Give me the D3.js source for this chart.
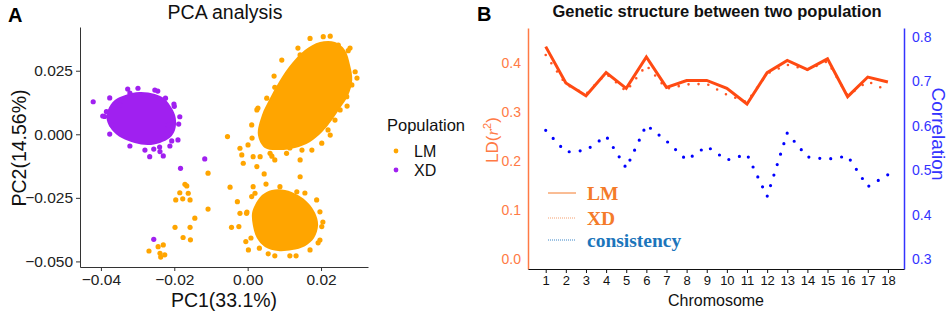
<!DOCTYPE html>
<html>
<head>
<meta charset="utf-8">
<title>PCA and genetic structure</title>
<script src="https://d3js.org/d3.v7.min.js"></script>
<style>
  body { margin: 0; background: #fff; }
  svg { display: block; font-family: "Liberation Sans", Arial, sans-serif; }
  .axisA path, .axisA line { stroke: #333; }
  .axisA text { fill: #222; font-size: 15.5px; }
</style>
</head>
<body>
<div id="chart"></div>
<script>
// ---------- Panel A data (PC1, PC2) ----------
// dense cores of the clusters, read as outlines
var xdCore = [[-0.0381,0.0096],[-0.0362,0.0135],[-0.0335,0.0154],[-0.0294,0.0166],[-0.0253,0.0158],[-0.0226,0.0139],[-0.0207,0.0103],[-0.0196,0.0064],[-0.0198,0.0017],[-0.0212,-0.0014],[-0.0239,-0.0034],[-0.0272,-0.0042],[-0.0308,-0.0034],[-0.0343,-0.0015],[-0.0370,0.0017],[-0.0384,0.0056]];
var lmUpperCore = [[0.0028,-0.0003],[0.0039,0.0076],[0.0061,0.0143],[0.0088,0.0213],[0.0121,0.0280],[0.0156,0.0332],[0.0197,0.0363],[0.0238,0.0363],[0.0265,0.0332],[0.0279,0.0273],[0.0285,0.0213],[0.0274,0.0154],[0.0252,0.0103],[0.0230,0.0056],[0.0203,0.0009],[0.0170,-0.0030],[0.0129,-0.0054],[0.0088,-0.0062],[0.0047,-0.0054]];
var lmLowerCore = [[0.0020,-0.0278],[0.0039,-0.0239],[0.0066,-0.0219],[0.0102,-0.0219],[0.0137,-0.0239],[0.0165,-0.0270],[0.0184,-0.0310],[0.0192,-0.0357],[0.0181,-0.0408],[0.0156,-0.0440],[0.0121,-0.0455],[0.0083,-0.0459],[0.0047,-0.0443],[0.0025,-0.0408],[0.0014,-0.0357],[0.0012,-0.0310]];

// individual points around the cores
var xdPoints = [
  [-0.0421,0.0128],[-0.0299,0.0181],[-0.0224,0.0142],[-0.0185,0.0069],[-0.0190,-0.0022],[-0.0267,-0.0088],[-0.0385,0.0089],
  [-0.0239,-0.0068],[-0.0230,-0.0085],[-0.0183,-0.0134],[-0.0117,-0.0097],[-0.0256,-0.0413],[-0.0212,-0.0046],[-0.0348,0.0115],
  [-0.0321,0.0162],[-0.0217,0.0037],[-0.0370,0.0037],[-0.0280,-0.0062],[-0.0253,0.0174],[-0.0200,0.0110],[-0.0390,0.0070],[-0.0240,-0.0050],
  [-0.0376,0.0143],[-0.0327,0.0178],[-0.0245,0.0170],[-0.0201,0.0119],[-0.0188,0.0040],[-0.0207,-0.0026],
  [-0.0256,-0.0058],[-0.0321,-0.0046],[-0.0376,0.0001],[-0.0395,0.0072]
];
var lmPoints = [
  // upper cluster fringe
  [0.0206,0.0384],[0.0170,0.0377],[0.0247,0.0351],[0.0274,0.0329],[0.0293,0.0246],[0.0270,0.0148],[0.0238,0.0056],[0.0202,-0.0035],
  [0.0093,0.0292],[0.0074,0.0185],[0.0052,0.0142],[0.0025,0.0096],[0.0011,0.0037],[-0.0055,-0.0009],[-0.0021,-0.0055],[0.0015,-0.0088],
  [-0.0016,-0.0081],[-0.0012,-0.0114],[0.0025,-0.0127],[0.0034,-0.0088],[0.0061,-0.0075],[0.0106,-0.0075],[0.0045,-0.0156],[0.0143,-0.0167],
  [0.0143,-0.0101],[0.0175,-0.0062],[0.0225,-0.0003],[0.0115,-0.0054],[0.0074,-0.0101],[0.0252,0.0096],[0.0284,0.0194],[0.0143,0.0312],[0.0110,0.0233],
  [0.0012,-0.0015],[0.0028,0.0103],[0.0072,0.0229],[0.0137,0.0339],[0.0225,0.0386],[0.0279,0.0339],[0.0298,0.0221],
  [0.0271,0.0111],[0.0219,0.0017],[0.0148,-0.0062],[0.0066,-0.0086],[0.0001,-0.0042],
  // between clusters
  [-0.0048,-0.0208],[-0.0028,-0.0265],[-0.0021,-0.0311],[-0.0044,-0.0366],[-0.0024,-0.0363],[0.0002,-0.0455],[-0.0005,-0.0422],[0.0032,-0.0448],
  // lower cluster fringe
  [0.0015,-0.0206],[0.0088,-0.0206],[0.0134,-0.0226],[0.0188,-0.0258],[0.0202,-0.0363],[0.0205,-0.0345],[0.0011,-0.0245],[0.0020,-0.0232],
  [-0.0003,-0.0311],[0.0074,-0.0478],[0.0115,-0.0478],[0.0170,-0.0455],[0.0197,-0.0416],
  [0.0050,-0.0196],[0.0156,-0.0231],[0.0197,-0.0305],[0.0192,-0.0427],[0.0132,-0.0478],[0.0056,-0.0470],
  [0.0009,-0.0408],[-0.0002,-0.0306],
  // scattered left group
  [-0.0108,-0.0153],[-0.0171,-0.0197],[-0.0166,-0.0203],[-0.0185,-0.0230],[-0.0162,-0.0232],[-0.0196,-0.0258],[-0.0177,-0.0254],[-0.0157,-0.0258],
  [-0.0108,-0.0294],[-0.0144,-0.0330],[-0.0198,-0.0366],[-0.0157,-0.0366],[-0.0176,-0.0406],[-0.0156,-0.0415],[-0.0269,-0.0459],[-0.0244,-0.0442],
  [-0.0230,-0.0435],[-0.0239,-0.0468],[-0.0226,-0.0474],[-0.0237,-0.0483]
];
var pcaXTicks = [-0.04, -0.02, 0.00, 0.02];
var pcaYTicks = [-0.050, -0.025, 0.000, 0.025];

// ---------- Panel B data ----------
var chromosomes = d3.range(1, 19);
var ldLM = [0.433,0.359,0.333,0.380,0.348,0.412,0.350,0.364,0.364,0.348,0.316,0.380,0.405,0.386,0.408,0.331,0.371,0.361];
var ldXD = [0.416,0.356,0.336,0.378,0.342,0.395,0.347,0.356,0.357,0.335,0.320,0.378,0.396,0.386,0.403,0.333,0.362,0.343];
var consistency = [0.590,0.541,0.545,0.577,0.505,0.602,0.566,0.523,0.554,0.523,0.536,0.441,0.584,0.530,0.525,0.532,0.463,0.490];
var ldTicks = [0.0, 0.1, 0.2, 0.3, 0.4];
var corTicks = [0.3, 0.4, 0.5, 0.6, 0.7, 0.8];

var svg = d3.select("#chart").append("svg")
    .attr("width", 948)
    .attr("height", 313);

// ================= Panel A =================
var xA = d3.scaleLinear().domain([-0.0457, 0.0328]).range([80, 368]);
var yA = d3.scaleLinear().domain([-0.0522, 0.0422]).range([267, 27]);
var orange = "#FFA500", purple = "#A020F0";
var minus = function (s) { return s.replace("-", "\u2212"); };

svg.append("text").attr("x", 8).attr("y", 22)
    .style("font-size", "20px").style("font-weight", "bold").text("A");
svg.append("text").attr("x", 225).attr("y", 19).attr("text-anchor", "middle")
    .style("font-size", "19.5px").style("fill", "#111").text("PCA analysis");

var area = d3.line().x(function (d) { return xA(d[0]); }).y(function (d) { return yA(d[1]); })
    .curve(d3.curveCatmullRomClosed);

svg.append("path").datum(lmUpperCore).attr("d", area).style("fill", orange);
svg.append("path").datum(lmLowerCore).attr("d", area).style("fill", orange);
svg.append("path").datum(xdCore).attr("d", area).style("fill", purple);

svg.selectAll(".lmPt").data(lmPoints).enter().append("circle")
    .attr("cx", function (d) { return xA(d[0]); })
    .attr("cy", function (d) { return yA(d[1]); })
    .attr("r", 2.6).style("fill", orange);
svg.selectAll(".xdPt").data(xdPoints).enter().append("circle")
    .attr("cx", function (d) { return xA(d[0]); })
    .attr("cy", function (d) { return yA(d[1]); })
    .attr("r", 2.6).style("fill", purple);

svg.append("g").attr("class", "axisA")
    .attr("transform", "translate(0,267)")
    .call(d3.axisBottom(xA).tickValues(pcaXTicks).tickSizeInner(4).tickSizeOuter(0)
        .tickFormat(function (d) { return minus(d3.format(".2f")(d)); }));
svg.append("g").attr("class", "axisA")
    .attr("transform", "translate(80,0)")
    .call(d3.axisLeft(yA).tickValues(pcaYTicks).tickSizeInner(4).tickSizeOuter(0)
        .tickFormat(function (d) { return minus(d3.format(".3f")(d)); }));
svg.selectAll(".axisA text").style("font-size", "15.5px");

svg.append("text").attr("x", 224).attr("y", 307).attr("text-anchor", "middle")
    .style("font-size", "19.5px").style("fill", "#111").text("PC1(33.1%)");
svg.append("text").attr("transform", "translate(26,148) rotate(-90)").attr("text-anchor", "middle")
    .style("font-size", "19.5px").style("fill", "#111").text("PC2(14.56%)");

// legend A
svg.append("text").attr("x", 387).attr("y", 131).style("font-size", "16.5px").style("fill", "#111").text("Population");
var legA = [["LM", orange], ["XD", purple]];
legA.forEach(function (d, i) {
    svg.append("circle").attr("cx", 396).attr("cy", 151 + i * 19).attr("r", 2.4).style("fill", d[1]);
    svg.append("text").attr("x", 414).attr("y", 156.5 + i * 19).style("font-size", "16px").style("fill", "#111").text(d[0]);
});

// ================= Panel B =================
var x = d3.scaleLinear().domain([0.12, 18.8]).range([528, 904]);
var yL = d3.scaleLinear().domain([-0.0204, 0.471]).range([269, 28]);
var yR = d3.scaleLinear().domain([0.2775, 0.8205]).range([269, 28]);
var axisOrange = "#FF7A45", lineRed = "#FF4A12", blue = "#3333FF";

svg.append("text").attr("x", 477).attr("y", 21)
    .style("font-size", "20px").style("font-weight", "bold").text("B");
svg.append("text").attr("x", 717).attr("y", 17).attr("text-anchor", "middle")
    .style("font-size", "16.5px").style("font-weight", "bold").style("fill", "#111")
    .text("Genetic structure between two population");

// left axis
var gL = svg.append("g").attr("transform", "translate(528,0)")
    .call(d3.axisLeft(yL).tickValues(ldTicks).tickSize(0).tickPadding(7).tickFormat(d3.format(".1f")));
gL.select(".domain").style("stroke", axisOrange).style("stroke-width", 1.5);
gL.selectAll("text").style("fill", axisOrange).style("font-size", "14px");

// right axis
var gR = svg.append("g").attr("transform", "translate(904,0)")
    .call(d3.axisRight(yR).tickValues(corTicks).tickSize(0).tickPadding(8).tickFormat(d3.format(".1f")));
gR.select(".domain").style("stroke", blue).style("stroke-width", 1.5);
gR.selectAll("text").style("fill", blue).style("font-size", "14px");

// bottom axis
var gB = svg.append("g").attr("transform", "translate(0,269)")
    .call(d3.axisBottom(x).tickValues(chromosomes).tickSizeInner(4).tickSizeOuter(0).tickPadding(3));
gB.select(".domain").style("stroke", "#111").style("stroke-width", 1.2);
gB.selectAll("line").style("stroke", "#111");
gB.selectAll("text").style("fill", "#111").style("font-size", "13px");

svg.append("text").attr("x", 716).attr("y", 306).attr("text-anchor", "middle")
    .style("font-size", "16px").style("fill", "#111").text("Chromosome");

var ldLabel = svg.append("text").attr("transform", "translate(498,140) rotate(-90)")
    .attr("text-anchor", "middle").style("font-size", "17px").style("fill", axisOrange);
ldLabel.append("tspan").text("LD(");
ldLabel.append("tspan").style("font-family", "'Liberation Serif', serif").style("font-style", "italic").text("r");
ldLabel.append("tspan").attr("dy", -7).style("font-size", "11px").text("2");
ldLabel.append("tspan").attr("dy", 7).text(")");

svg.append("text").attr("transform", "translate(932,134) rotate(90)")
    .attr("text-anchor", "middle").style("font-size", "19px").style("fill", blue).text("Correlation");

// lines
var lineL = d3.line().x(function (d, i) { return x(chromosomes[i]); }).y(function (d) { return yL(d); });
var lineR = d3.line().x(function (d, i) { return x(chromosomes[i]); }).y(function (d) { return yR(d); });

svg.append("path").datum(ldXD).attr("d", lineL)
    .style("fill", "none").style("stroke", "#FF5522").style("stroke-width", 2.6)
    .style("stroke-linecap", "round").style("stroke-dasharray", "0,10");
svg.append("path").datum(ldLM).attr("d", lineL)
    .style("fill", "none").style("stroke", lineRed).style("stroke-width", 3);
svg.append("path").datum(consistency).attr("d", lineR)
    .style("fill", "none").style("stroke", "#0000FF").style("stroke-width", 3.2)
    .style("stroke-linecap", "round").style("stroke-dasharray", "0,11");

// legend B
var legB = [
    { name: "LM", color: "#F47B2A", text: "#F47B2A", dash: null, y: 193 },
    { name: "XD", color: "#F5A070", text: "#F47B2A", dash: "1,1", y: 218 },
    { name: "consistency", color: "#3A86C8", text: "#1B75BB", dash: "1,1", y: 240 }
];
legB.forEach(function (d) {
    svg.append("line").attr("x1", 548).attr("x2", 576).attr("y1", d.y).attr("y2", d.y)
        .style("stroke", d.color).style("stroke-width", 1).style("stroke-dasharray", d.dash);
    svg.append("text").attr("x", 587).attr("y", d.y + 6.5)
        .style("font-family", "'Liberation Serif', serif").style("font-weight", "bold")
        .style("font-size", "19.5px").style("fill", d.text).text(d.name);
});
</script>
</body>
</html>
